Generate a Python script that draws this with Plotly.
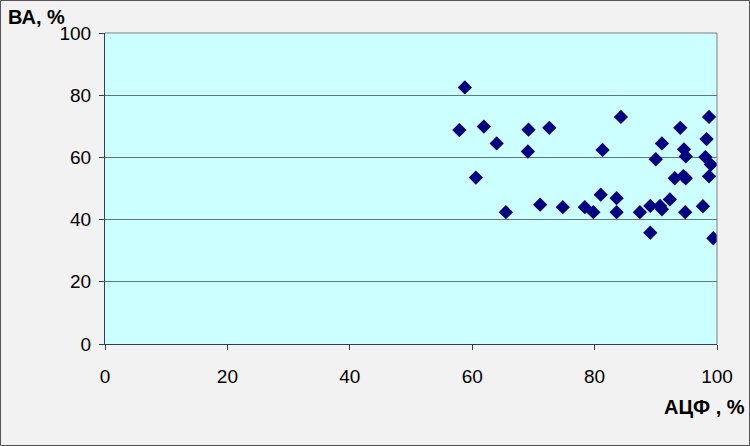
import plotly.graph_objects as go

# АЦФ, % (x) and ВА, % (y)
acf = [57.9, 58.8, 60.6, 61.9, 64.0, 65.5, 69.2, 69.1, 71.1, 72.6,
       74.8, 78.4, 79.8, 81.0, 81.3, 83.6, 83.6, 84.3, 87.4, 89.1,
       89.1, 90.0, 90.7, 91.0, 91.0, 92.3, 93.1, 94.0, 94.6, 94.5,
       94.9, 94.9, 94.8, 97.7, 98.1, 98.3, 98.7, 98.7, 99.0, 99.4]
va = [68.8, 82.5, 53.5, 69.9, 64.5, 42.4, 68.9, 61.9, 44.8, 69.5,
      44.0, 44.0, 42.4, 48.0, 62.4, 46.9, 42.4, 73.0, 42.4, 44.4,
      35.8, 59.4, 44.4, 64.5, 43.3, 46.5, 53.3, 69.5, 62.6, 54.0,
      53.3, 60.3, 42.4, 44.3, 60.1, 65.9, 73.0, 53.9, 57.7, 34.0]
x_ticks = [0, 20, 40, 60, 80, 100]
y_ticks = [0, 20, 40, 60, 80, 100]

W, H = 750, 446
L, R, T, B = 105, 33, 33, 102
pw, ph = W - L - R, H - T - B

fig = go.Figure()
fig.add_trace(go.Scatter(x=acf, y=va, mode="markers",
                         marker=dict(symbol="diamond", size=11, color="#000080",
                                     line=dict(width=0))))

font = dict(family="Arial, Liberation Sans", size=19, color="#000000")
fig.update_layout(
    width=W, height=H,
    margin=dict(l=L, r=R, t=T, b=B),
    paper_bgcolor="#f2f2f2",
    plot_bgcolor="#ccffff",
    showlegend=False,
    font=font,
    xaxis=dict(range=[0, 100], tickvals=x_ticks, showgrid=False, zeroline=False,
               showline=True, linecolor="#2f3f4f", linewidth=1,
               ticks="outside", ticklen=5, tickcolor="#2f3f4f",
               ticklabelstandoff=10, tickfont=font),
    yaxis=dict(range=[0, 100], tickvals=y_ticks, showgrid=True, gridcolor="#5f7777",
               gridwidth=1, zeroline=False,
               showline=True, linecolor="#2f3f4f", linewidth=1,
               ticks="outside", ticklen=5, tickcolor="#2f3f4f",
               ticklabelstandoff=4, tickfont=font),
)

# grey frame on top/right of plot area
fig.add_shape(type="line", xref="paper", yref="paper", x0=0, x1=1, y0=1, y1=1,
              line=dict(color="#808080", width=1))
fig.add_shape(type="line", xref="paper", yref="paper", x0=1, x1=1, y0=0, y1=1,
              line=dict(color="#808080", width=1))
# border round the whole picture
fig.add_shape(type="rect", xref="paper", yref="paper",
              x0=-(L - 0.5) / pw, x1=1 + (R - 0.5) / pw,
              y0=-(B - 0.5) / ph, y1=1 + (T - 0.5) / ph,
              line=dict(color="#555555", width=1))

title_font = dict(family="Arial, Liberation Sans", size=20, color="#000000")
fig.add_annotation(text="<b>ВА, %</b>", xref="paper", yref="paper",
                   x=-(L - 6) / pw, y=1 + (T - 17) / ph, xanchor="left", yanchor="middle",
                   showarrow=False, font=title_font)
fig.add_annotation(text="<b>АЦФ , %</b>", xref="paper", yref="paper",
                   x=1 + (R - 3) / pw, y=-(407 - T - ph) / ph, xanchor="right", yanchor="middle",
                   showarrow=False, font=title_font)

fig.write_html("out.html", config={"displayModeBar": False},
               post_script="document.body.style.margin='0';")
